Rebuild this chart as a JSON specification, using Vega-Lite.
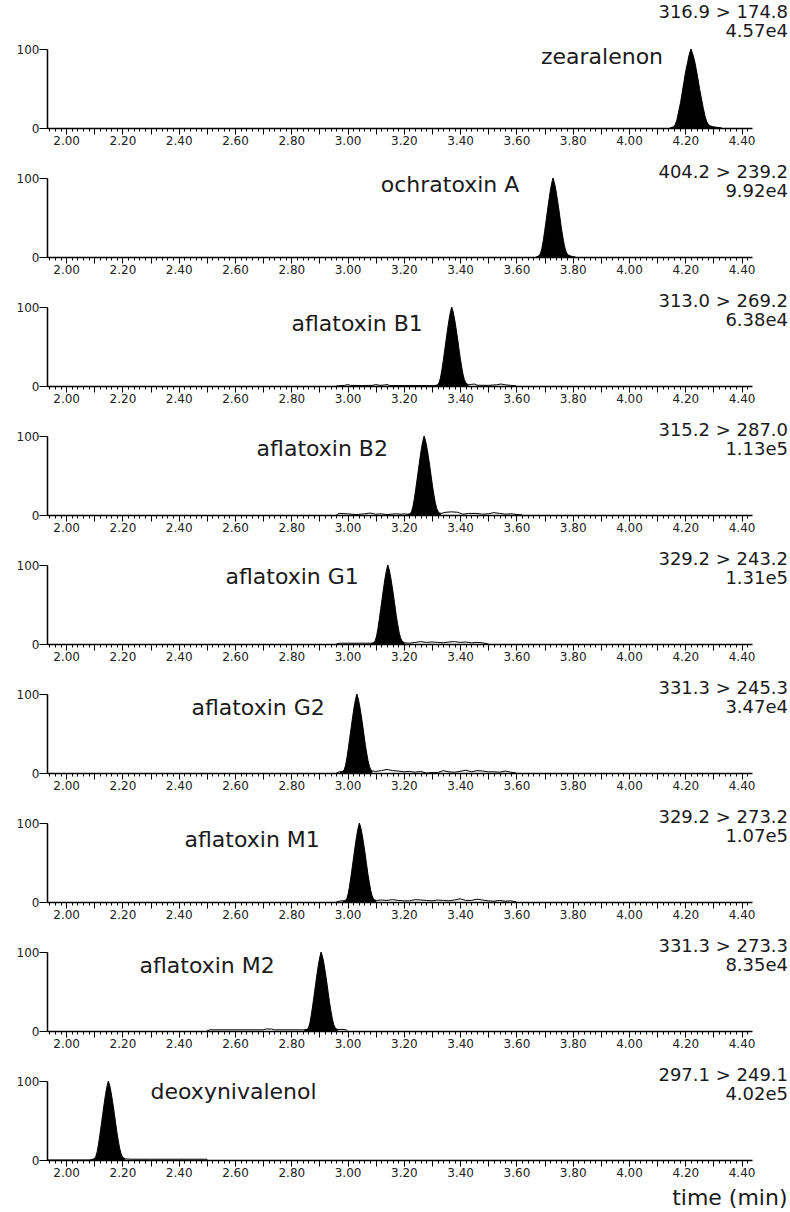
{
  "$schema": "https://vega.github.io/schema/vega-lite/v6.json",
  "padding": {"left": 16, "top": 4, "right": 0, "bottom": 0},
  "bounds": "flush",
  "spacing": 50,
  "config": {
    "view": {"stroke": null},
    "font": "DejaVu Sans",
    "axis": {"domainColor": "black", "domainWidth": 1.5, "tickColor": "black", "tickWidth": 1, "labelFont": "DejaVu Sans", "labelFontSize": 12, "labelColor": "#222222", "grid": false, "labelOverlap": false, "labelBound": false, "labelFlush": false},
    "text": {"font": "DejaVu Sans", "fontSize": 22, "color": "#1a1a1a"}
  },
  "datasets": {
    "labels": [
      {"panel": 1, "compound": "zearalenon", "header": "316.9 > 174.8\n4.57e4"},
      {"panel": 2, "compound": "ochratoxin A", "header": "404.2 > 239.2\n9.92e4"},
      {"panel": 3, "compound": "aflatoxin B1", "header": "313.0 > 269.2\n6.38e4"},
      {"panel": 4, "compound": "aflatoxin B2", "header": "315.2 > 287.0\n1.13e5"},
      {"panel": 5, "compound": "aflatoxin G1", "header": "329.2 > 243.2\n1.31e5"},
      {"panel": 6, "compound": "aflatoxin G2", "header": "331.3 > 245.3\n3.47e4"},
      {"panel": 7, "compound": "aflatoxin M1", "header": "329.2 > 273.2\n1.07e5"},
      {"panel": 8, "compound": "aflatoxin M2", "header": "331.3 > 273.3\n8.35e4"},
      {"panel": 9, "compound": "deoxynivalenol", "header": "297.1 > 249.1\n4.02e5"}
    ],
    "trace": [
      {"panel":1,"time":4.145,"signal":0,"peak":1},{"panel":1,"time":4.158,"signal":1.5,"peak":1},{"panel":1,"time":4.164,"signal":4,"peak":1},{"panel":1,"time":4.170,"signal":10,"peak":1},{"panel":1,"time":4.176,"signal":20,"peak":1},{"panel":1,"time":4.183,"signal":32,"peak":1},{"panel":1,"time":4.189,"signal":45,"peak":1},{"panel":1,"time":4.195,"signal":58,"peak":1},{"panel":1,"time":4.201,"signal":71,"peak":1},{"panel":1,"time":4.208,"signal":83,"peak":1},{"panel":1,"time":4.214,"signal":93,"peak":1},{"panel":1,"time":4.220,"signal":100,"peak":1},{"panel":1,"time":4.226,"signal":94,"peak":1},{"panel":1,"time":4.233,"signal":85,"peak":1},{"panel":1,"time":4.239,"signal":74,"peak":1},{"panel":1,"time":4.245,"signal":62,"peak":1},{"panel":1,"time":4.251,"signal":49,"peak":1},{"panel":1,"time":4.258,"signal":36,"peak":1},{"panel":1,"time":4.264,"signal":25,"peak":1},{"panel":1,"time":4.270,"signal":15,"peak":1},{"panel":1,"time":4.276,"signal":8,"peak":1},{"panel":1,"time":4.283,"signal":4,"peak":1},{"panel":1,"time":4.290,"signal":2.5,"peak":1},{"panel":1,"time":4.300,"signal":1.5,"peak":1},{"panel":1,"time":4.310,"signal":1,"peak":1},{"panel":1,"time":4.320,"signal":0.5,"peak":1},{"panel":1,"time":4.330,"signal":0,"peak":1},

      {"panel":2,"time":3.670,"signal":0,"peak":1},{"panel":2,"time":3.680,"signal":1.5,"peak":1},{"panel":2,"time":3.685,"signal":4,"peak":1},{"panel":2,"time":3.690,"signal":10,"peak":1},{"panel":2,"time":3.695,"signal":20,"peak":1},{"panel":2,"time":3.700,"signal":32,"peak":1},{"panel":2,"time":3.705,"signal":45,"peak":1},{"panel":2,"time":3.710,"signal":58,"peak":1},{"panel":2,"time":3.715,"signal":71,"peak":1},{"panel":2,"time":3.720,"signal":83,"peak":1},{"panel":2,"time":3.725,"signal":93,"peak":1},{"panel":2,"time":3.730,"signal":100,"peak":1},{"panel":2,"time":3.735,"signal":94,"peak":1},{"panel":2,"time":3.740,"signal":85,"peak":1},{"panel":2,"time":3.745,"signal":74,"peak":1},{"panel":2,"time":3.750,"signal":62,"peak":1},{"panel":2,"time":3.755,"signal":49,"peak":1},{"panel":2,"time":3.760,"signal":36,"peak":1},{"panel":2,"time":3.765,"signal":25,"peak":1},{"panel":2,"time":3.770,"signal":15,"peak":1},{"panel":2,"time":3.775,"signal":8,"peak":1},{"panel":2,"time":3.780,"signal":4,"peak":1},{"panel":2,"time":3.785,"signal":2.5,"peak":1},{"panel":2,"time":3.790,"signal":1.5,"peak":1},{"panel":2,"time":3.800,"signal":0.5,"peak":1},{"panel":2,"time":3.810,"signal":0,"peak":1},

      {"panel":3,"time":2.960,"signal":0,"peak":0},{"panel":3,"time":2.990,"signal":0.8,"peak":0},{"panel":3,"time":3.000,"signal":1.8,"peak":0},{"panel":3,"time":3.010,"signal":0.8,"peak":0},{"panel":3,"time":3.050,"signal":0.6,"peak":0},{"panel":3,"time":3.090,"signal":0.8,"peak":0},{"panel":3,"time":3.100,"signal":1.8,"peak":0},{"panel":3,"time":3.115,"signal":0.8,"peak":0},{"panel":3,"time":3.130,"signal":1.2,"peak":0},{"panel":3,"time":3.140,"signal":1.8,"peak":0},{"panel":3,"time":3.150,"signal":0.6,"peak":0},{"panel":3,"time":3.200,"signal":0.5,"peak":0},{"panel":3,"time":3.250,"signal":0.6,"peak":0},{"panel":3,"time":3.300,"signal":0.5,"peak":0},
      {"panel":3,"time":3.310,"signal":0.5,"peak":1},{"panel":3,"time":3.320,"signal":1.5,"peak":1},{"panel":3,"time":3.325,"signal":4,"peak":1},{"panel":3,"time":3.330,"signal":10,"peak":1},{"panel":3,"time":3.335,"signal":20,"peak":1},{"panel":3,"time":3.340,"signal":32,"peak":1},{"panel":3,"time":3.345,"signal":45,"peak":1},{"panel":3,"time":3.350,"signal":58,"peak":1},{"panel":3,"time":3.355,"signal":71,"peak":1},{"panel":3,"time":3.360,"signal":83,"peak":1},{"panel":3,"time":3.365,"signal":93,"peak":1},{"panel":3,"time":3.370,"signal":100,"peak":1},{"panel":3,"time":3.375,"signal":94,"peak":1},{"panel":3,"time":3.380,"signal":85,"peak":1},{"panel":3,"time":3.385,"signal":74,"peak":1},{"panel":3,"time":3.390,"signal":62,"peak":1},{"panel":3,"time":3.395,"signal":49,"peak":1},{"panel":3,"time":3.400,"signal":36,"peak":1},{"panel":3,"time":3.405,"signal":25,"peak":1},{"panel":3,"time":3.410,"signal":15,"peak":1},{"panel":3,"time":3.415,"signal":8,"peak":1},{"panel":3,"time":3.420,"signal":4,"peak":1},{"panel":3,"time":3.425,"signal":2.5,"peak":1},{"panel":3,"time":3.430,"signal":1.5,"peak":1},
      {"panel":3,"time":3.440,"signal":2,"peak":0},{"panel":3,"time":3.450,"signal":2.5,"peak":0},{"panel":3,"time":3.460,"signal":1,"peak":0},{"panel":3,"time":3.500,"signal":0.8,"peak":0},{"panel":3,"time":3.530,"signal":1.5,"peak":0},{"panel":3,"time":3.545,"signal":2.5,"peak":0},{"panel":3,"time":3.560,"signal":1.5,"peak":0},{"panel":3,"time":3.580,"signal":0.8,"peak":0},{"panel":3,"time":3.600,"signal":0,"peak":0},

      {"panel":4,"time":2.960,"signal":0,"peak":0},{"panel":4,"time":2.970,"signal":2,"peak":0},{"panel":4,"time":3.000,"signal":1.5,"peak":0},{"panel":4,"time":3.030,"signal":0.5,"peak":0},{"panel":4,"time":3.060,"signal":1.5,"peak":0},{"panel":4,"time":3.080,"signal":2.5,"peak":0},{"panel":4,"time":3.100,"signal":1,"peak":0},{"panel":4,"time":3.120,"signal":1.5,"peak":0},{"panel":4,"time":3.140,"signal":0.5,"peak":0},{"panel":4,"time":3.170,"signal":1.5,"peak":0},{"panel":4,"time":3.190,"signal":1,"peak":0},{"panel":4,"time":3.200,"signal":1.5,"peak":0},
      {"panel":4,"time":3.212,"signal":1,"peak":1},{"panel":4,"time":3.222,"signal":1.5,"peak":1},{"panel":4,"time":3.227,"signal":4,"peak":1},{"panel":4,"time":3.232,"signal":10,"peak":1},{"panel":4,"time":3.237,"signal":20,"peak":1},{"panel":4,"time":3.242,"signal":32,"peak":1},{"panel":4,"time":3.247,"signal":45,"peak":1},{"panel":4,"time":3.252,"signal":58,"peak":1},{"panel":4,"time":3.257,"signal":71,"peak":1},{"panel":4,"time":3.262,"signal":83,"peak":1},{"panel":4,"time":3.267,"signal":93,"peak":1},{"panel":4,"time":3.272,"signal":100,"peak":1},{"panel":4,"time":3.277,"signal":94,"peak":1},{"panel":4,"time":3.282,"signal":85,"peak":1},{"panel":4,"time":3.287,"signal":74,"peak":1},{"panel":4,"time":3.292,"signal":62,"peak":1},{"panel":4,"time":3.297,"signal":49,"peak":1},{"panel":4,"time":3.302,"signal":36,"peak":1},{"panel":4,"time":3.307,"signal":25,"peak":1},{"panel":4,"time":3.312,"signal":15,"peak":1},{"panel":4,"time":3.317,"signal":8,"peak":1},{"panel":4,"time":3.322,"signal":4,"peak":1},{"panel":4,"time":3.327,"signal":2.5,"peak":1},{"panel":4,"time":3.332,"signal":2,"peak":1},
      {"panel":4,"time":3.350,"signal":3.5,"peak":0},{"panel":4,"time":3.370,"signal":4,"peak":0},{"panel":4,"time":3.390,"signal":3.5,"peak":0},{"panel":4,"time":3.410,"signal":1,"peak":0},{"panel":4,"time":3.430,"signal":2,"peak":0},{"panel":4,"time":3.460,"signal":2,"peak":0},{"panel":4,"time":3.480,"signal":1,"peak":0},{"panel":4,"time":3.500,"signal":1.5,"peak":0},{"panel":4,"time":3.520,"signal":3,"peak":0},{"panel":4,"time":3.540,"signal":2,"peak":0},{"panel":4,"time":3.560,"signal":1,"peak":0},{"panel":4,"time":3.580,"signal":1.5,"peak":0},{"panel":4,"time":3.620,"signal":0,"peak":0},

      {"panel":5,"time":2.960,"signal":0,"peak":0},{"panel":5,"time":2.970,"signal":1,"peak":0},{"panel":5,"time":3.080,"signal":1,"peak":0},
      {"panel":5,"time":3.083,"signal":1,"peak":1},{"panel":5,"time":3.093,"signal":1.5,"peak":1},{"panel":5,"time":3.098,"signal":4,"peak":1},{"panel":5,"time":3.103,"signal":10,"peak":1},{"panel":5,"time":3.108,"signal":20,"peak":1},{"panel":5,"time":3.113,"signal":32,"peak":1},{"panel":5,"time":3.118,"signal":45,"peak":1},{"panel":5,"time":3.123,"signal":58,"peak":1},{"panel":5,"time":3.128,"signal":71,"peak":1},{"panel":5,"time":3.133,"signal":83,"peak":1},{"panel":5,"time":3.138,"signal":93,"peak":1},{"panel":5,"time":3.143,"signal":100,"peak":1},{"panel":5,"time":3.148,"signal":94,"peak":1},{"panel":5,"time":3.153,"signal":85,"peak":1},{"panel":5,"time":3.158,"signal":74,"peak":1},{"panel":5,"time":3.163,"signal":62,"peak":1},{"panel":5,"time":3.168,"signal":49,"peak":1},{"panel":5,"time":3.173,"signal":36,"peak":1},{"panel":5,"time":3.178,"signal":25,"peak":1},{"panel":5,"time":3.183,"signal":15,"peak":1},{"panel":5,"time":3.188,"signal":8,"peak":1},{"panel":5,"time":3.193,"signal":4,"peak":1},{"panel":5,"time":3.198,"signal":2.5,"peak":1},{"panel":5,"time":3.203,"signal":1.5,"peak":1},
      {"panel":5,"time":3.220,"signal":1,"peak":0},{"panel":5,"time":3.240,"signal":2,"peak":0},{"panel":5,"time":3.260,"signal":3,"peak":0},{"panel":5,"time":3.280,"signal":2,"peak":0},{"panel":5,"time":3.300,"signal":2.5,"peak":0},{"panel":5,"time":3.320,"signal":2,"peak":0},{"panel":5,"time":3.340,"signal":1.5,"peak":0},{"panel":5,"time":3.360,"signal":2.5,"peak":0},{"panel":5,"time":3.380,"signal":3,"peak":0},{"panel":5,"time":3.400,"signal":2,"peak":0},{"panel":5,"time":3.420,"signal":2.5,"peak":0},{"panel":5,"time":3.440,"signal":1.5,"peak":0},{"panel":5,"time":3.460,"signal":2,"peak":0},{"panel":5,"time":3.480,"signal":1.5,"peak":0},{"panel":5,"time":3.500,"signal":0,"peak":0},

      {"panel":6,"time":2.960,"signal":0,"peak":0},{"panel":6,"time":2.970,"signal":1.5,"peak":0},
      {"panel":6,"time":2.973,"signal":1.5,"peak":1},{"panel":6,"time":2.983,"signal":2,"peak":1},{"panel":6,"time":2.988,"signal":4,"peak":1},{"panel":6,"time":2.993,"signal":10,"peak":1},{"panel":6,"time":2.998,"signal":20,"peak":1},{"panel":6,"time":3.003,"signal":32,"peak":1},{"panel":6,"time":3.008,"signal":45,"peak":1},{"panel":6,"time":3.013,"signal":58,"peak":1},{"panel":6,"time":3.018,"signal":71,"peak":1},{"panel":6,"time":3.023,"signal":83,"peak":1},{"panel":6,"time":3.028,"signal":93,"peak":1},{"panel":6,"time":3.033,"signal":100,"peak":1},{"panel":6,"time":3.038,"signal":94,"peak":1},{"panel":6,"time":3.043,"signal":85,"peak":1},{"panel":6,"time":3.048,"signal":74,"peak":1},{"panel":6,"time":3.053,"signal":62,"peak":1},{"panel":6,"time":3.058,"signal":49,"peak":1},{"panel":6,"time":3.063,"signal":36,"peak":1},{"panel":6,"time":3.068,"signal":25,"peak":1},{"panel":6,"time":3.073,"signal":15,"peak":1},{"panel":6,"time":3.078,"signal":8,"peak":1},{"panel":6,"time":3.083,"signal":4,"peak":1},{"panel":6,"time":3.088,"signal":2.5,"peak":1},
      {"panel":6,"time":3.100,"signal":2,"peak":0},{"panel":6,"time":3.120,"signal":3,"peak":0},{"panel":6,"time":3.140,"signal":4.5,"peak":0},{"panel":6,"time":3.160,"signal":3,"peak":0},{"panel":6,"time":3.180,"signal":2.5,"peak":0},{"panel":6,"time":3.200,"signal":1.5,"peak":0},{"panel":6,"time":3.220,"signal":2,"peak":0},{"panel":6,"time":3.240,"signal":1,"peak":0},{"panel":6,"time":3.260,"signal":2,"peak":0},{"panel":6,"time":3.280,"signal":0,"peak":0},{"panel":6,"time":3.300,"signal":0.5,"peak":0},{"panel":6,"time":3.320,"signal":0.5,"peak":0},{"panel":6,"time":3.340,"signal":3,"peak":0},{"panel":6,"time":3.360,"signal":1.5,"peak":0},{"panel":6,"time":3.380,"signal":1,"peak":0},{"panel":6,"time":3.400,"signal":2,"peak":0},{"panel":6,"time":3.420,"signal":3.5,"peak":0},{"panel":6,"time":3.440,"signal":1.5,"peak":0},{"panel":6,"time":3.460,"signal":3,"peak":0},{"panel":6,"time":3.480,"signal":2.5,"peak":0},{"panel":6,"time":3.500,"signal":1.5,"peak":0},{"panel":6,"time":3.520,"signal":1.5,"peak":0},{"panel":6,"time":3.540,"signal":1,"peak":0},{"panel":6,"time":3.560,"signal":2.5,"peak":0},{"panel":6,"time":3.580,"signal":1,"peak":0},{"panel":6,"time":3.600,"signal":0,"peak":0},

      {"panel":7,"time":2.960,"signal":0,"peak":0},{"panel":7,"time":2.970,"signal":1,"peak":0},{"panel":7,"time":2.980,"signal":1.5,"peak":0},
      {"panel":7,"time":2.982,"signal":1.5,"peak":1},{"panel":7,"time":2.992,"signal":2,"peak":1},{"panel":7,"time":2.997,"signal":4,"peak":1},{"panel":7,"time":3.002,"signal":10,"peak":1},{"panel":7,"time":3.007,"signal":20,"peak":1},{"panel":7,"time":3.012,"signal":32,"peak":1},{"panel":7,"time":3.017,"signal":45,"peak":1},{"panel":7,"time":3.022,"signal":58,"peak":1},{"panel":7,"time":3.027,"signal":71,"peak":1},{"panel":7,"time":3.032,"signal":83,"peak":1},{"panel":7,"time":3.037,"signal":93,"peak":1},{"panel":7,"time":3.042,"signal":100,"peak":1},{"panel":7,"time":3.047,"signal":94,"peak":1},{"panel":7,"time":3.052,"signal":85,"peak":1},{"panel":7,"time":3.057,"signal":74,"peak":1},{"panel":7,"time":3.062,"signal":62,"peak":1},{"panel":7,"time":3.067,"signal":49,"peak":1},{"panel":7,"time":3.072,"signal":36,"peak":1},{"panel":7,"time":3.077,"signal":25,"peak":1},{"panel":7,"time":3.082,"signal":15,"peak":1},{"panel":7,"time":3.087,"signal":8,"peak":1},{"panel":7,"time":3.092,"signal":4,"peak":1},{"panel":7,"time":3.097,"signal":2.5,"peak":1},{"panel":7,"time":3.102,"signal":2,"peak":1},
      {"panel":7,"time":3.120,"signal":2.5,"peak":0},{"panel":7,"time":3.140,"signal":2,"peak":0},{"panel":7,"time":3.160,"signal":3,"peak":0},{"panel":7,"time":3.180,"signal":2,"peak":0},{"panel":7,"time":3.200,"signal":1.5,"peak":0},{"panel":7,"time":3.220,"signal":1.5,"peak":0},{"panel":7,"time":3.240,"signal":3,"peak":0},{"panel":7,"time":3.260,"signal":2.5,"peak":0},{"panel":7,"time":3.280,"signal":2,"peak":0},{"panel":7,"time":3.300,"signal":1.5,"peak":0},{"panel":7,"time":3.320,"signal":2.5,"peak":0},{"panel":7,"time":3.340,"signal":2,"peak":0},{"panel":7,"time":3.360,"signal":1.5,"peak":0},{"panel":7,"time":3.380,"signal":2.5,"peak":0},{"panel":7,"time":3.400,"signal":4,"peak":0},{"panel":7,"time":3.420,"signal":2,"peak":0},{"panel":7,"time":3.440,"signal":2,"peak":0},{"panel":7,"time":3.460,"signal":3.5,"peak":0},{"panel":7,"time":3.480,"signal":2.5,"peak":0},{"panel":7,"time":3.500,"signal":1.5,"peak":0},{"panel":7,"time":3.520,"signal":1,"peak":0},{"panel":7,"time":3.540,"signal":2,"peak":0},{"panel":7,"time":3.560,"signal":1,"peak":0},{"panel":7,"time":3.580,"signal":1.5,"peak":0},{"panel":7,"time":3.600,"signal":0,"peak":0},

      {"panel":8,"time":2.500,"signal":0,"peak":0},{"panel":8,"time":2.510,"signal":1.5,"peak":0},{"panel":8,"time":2.600,"signal":1.5,"peak":0},{"panel":8,"time":2.700,"signal":1.5,"peak":0},{"panel":8,"time":2.710,"signal":2.5,"peak":0},{"panel":8,"time":2.730,"signal":2.5,"peak":0},{"panel":8,"time":2.740,"signal":1.5,"peak":0},{"panel":8,"time":2.840,"signal":1.5,"peak":0},
      {"panel":8,"time":2.846,"signal":1.5,"peak":1},{"panel":8,"time":2.856,"signal":2,"peak":1},{"panel":8,"time":2.861,"signal":4,"peak":1},{"panel":8,"time":2.866,"signal":10,"peak":1},{"panel":8,"time":2.871,"signal":20,"peak":1},{"panel":8,"time":2.876,"signal":32,"peak":1},{"panel":8,"time":2.881,"signal":45,"peak":1},{"panel":8,"time":2.886,"signal":58,"peak":1},{"panel":8,"time":2.891,"signal":71,"peak":1},{"panel":8,"time":2.896,"signal":83,"peak":1},{"panel":8,"time":2.901,"signal":93,"peak":1},{"panel":8,"time":2.906,"signal":100,"peak":1},{"panel":8,"time":2.911,"signal":94,"peak":1},{"panel":8,"time":2.916,"signal":85,"peak":1},{"panel":8,"time":2.921,"signal":74,"peak":1},{"panel":8,"time":2.926,"signal":62,"peak":1},{"panel":8,"time":2.931,"signal":49,"peak":1},{"panel":8,"time":2.936,"signal":36,"peak":1},{"panel":8,"time":2.941,"signal":25,"peak":1},{"panel":8,"time":2.946,"signal":15,"peak":1},{"panel":8,"time":2.951,"signal":8,"peak":1},{"panel":8,"time":2.956,"signal":4,"peak":1},{"panel":8,"time":2.961,"signal":2.5,"peak":1},{"panel":8,"time":2.966,"signal":2,"peak":1},
      {"panel":8,"time":2.980,"signal":2,"peak":0},{"panel":8,"time":2.995,"signal":1.5,"peak":0},{"panel":8,"time":3.000,"signal":0,"peak":0},

      {"panel":9,"time":1.932,"signal":0,"peak":0},{"panel":9,"time":2.080,"signal":0,"peak":0},
      {"panel":9,"time":2.090,"signal":0.5,"peak":1},{"panel":9,"time":2.100,"signal":1.5,"peak":1},{"panel":9,"time":2.105,"signal":4,"peak":1},{"panel":9,"time":2.110,"signal":10,"peak":1},{"panel":9,"time":2.115,"signal":20,"peak":1},{"panel":9,"time":2.120,"signal":32,"peak":1},{"panel":9,"time":2.125,"signal":45,"peak":1},{"panel":9,"time":2.130,"signal":58,"peak":1},{"panel":9,"time":2.135,"signal":71,"peak":1},{"panel":9,"time":2.140,"signal":83,"peak":1},{"panel":9,"time":2.145,"signal":93,"peak":1},{"panel":9,"time":2.150,"signal":100,"peak":1},{"panel":9,"time":2.155,"signal":94,"peak":1},{"panel":9,"time":2.160,"signal":85,"peak":1},{"panel":9,"time":2.165,"signal":74,"peak":1},{"panel":9,"time":2.170,"signal":62,"peak":1},{"panel":9,"time":2.175,"signal":49,"peak":1},{"panel":9,"time":2.180,"signal":36,"peak":1},{"panel":9,"time":2.185,"signal":25,"peak":1},{"panel":9,"time":2.190,"signal":15,"peak":1},{"panel":9,"time":2.195,"signal":8,"peak":1},{"panel":9,"time":2.200,"signal":4,"peak":1},{"panel":9,"time":2.205,"signal":2.5,"peak":1},{"panel":9,"time":2.210,"signal":1.5,"peak":1},
      {"panel":9,"time":2.230,"signal":1,"peak":0},{"panel":9,"time":2.300,"signal":1,"peak":0},{"panel":9,"time":2.400,"signal":1,"peak":0},{"panel":9,"time":2.500,"signal":1,"peak":0},{"panel":9,"time":2.502,"signal":0,"peak":0}
    ]
  },
  "vconcat": [
    {"width": 705, "height": 79, "layer": [
      {"data": {"name": "trace"}, "transform": [{"filter": "datum.panel == 1 && datum.peak == 1"}], "mark": {"type": "area", "color": "black"},
       "encoding": {
         "x": {"field": "time", "type": "quantitative", "scale": {"domain": [1.932, 4.437], "nice": false, "zero": false}, "axis": {"title": null, "tickCount": 125, "labelExpr": "abs(datum.value*5 - round(datum.value*5)) < 0.001 ? format(datum.value, '.2f') : ''", "tickSize": {"condition": {"test": "abs(datum.value*10 - round(datum.value*10)) < 0.001", "value": 6}, "value": 3}, "labelPadding": 1}},
         "y": {"field": "signal", "type": "quantitative", "scale": {"domain": [0, 100], "nice": false}, "axis": {"title": null, "values": [0,10,20,30,40,50,60,70,80,90,100], "labelExpr": "datum.value == 100 ? '100' : datum.value == 50 ? '%' : datum.value == 0 ? '0' : ''", "tickSize": {"condition": {"test": "datum.value % 50 == 0", "value": 8}, "value": 4}, "labelPadding": 0}}}},
      {"data": {"name": "trace"}, "transform": [{"filter": "datum.panel == 1"}], "mark": {"type": "line", "color": "black", "strokeWidth": 1}, "encoding": {"x": {"field": "time", "type": "quantitative"}, "y": {"field": "signal", "type": "quantitative"}}},
      {"data": {"name": "labels"}, "transform": [{"filter": "datum.panel == 1"}], "mark": {"type": "text"}, "encoding": {"x": {"datum": 3.904}, "y": {"datum": 90}, "text": {"field": "compound"}}},
      {"data": {"name": "labels"}, "transform": [{"filter": "datum.panel == 1"}], "mark": {"type": "text", "align": "right", "baseline": "middle", "fontSize": 18, "lineHeight": 19, "lineBreak": "\n"}, "encoding": {"x": {"datum": 4.565}, "y": {"datum": 145.5}, "text": {"field": "header"}}}
    ]},
    {"width": 705, "height": 79, "layer": [
      {"data": {"name": "trace"}, "transform": [{"filter": "datum.panel == 2 && datum.peak == 1"}], "mark": {"type": "area", "color": "black"},
       "encoding": {
         "x": {"field": "time", "type": "quantitative", "scale": {"domain": [1.932, 4.437], "nice": false, "zero": false}, "axis": {"title": null, "tickCount": 125, "labelExpr": "abs(datum.value*5 - round(datum.value*5)) < 0.001 ? format(datum.value, '.2f') : ''", "tickSize": {"condition": {"test": "abs(datum.value*10 - round(datum.value*10)) < 0.001", "value": 6}, "value": 3}, "labelPadding": 1}},
         "y": {"field": "signal", "type": "quantitative", "scale": {"domain": [0, 100], "nice": false}, "axis": {"title": null, "values": [0,10,20,30,40,50,60,70,80,90,100], "labelExpr": "datum.value == 100 ? '100' : datum.value == 50 ? '%' : datum.value == 0 ? '0' : ''", "tickSize": {"condition": {"test": "datum.value % 50 == 0", "value": 8}, "value": 4}, "labelPadding": 0}}}},
      {"data": {"name": "trace"}, "transform": [{"filter": "datum.panel == 2"}], "mark": {"type": "line", "color": "black", "strokeWidth": 1}, "encoding": {"x": {"field": "time", "type": "quantitative"}, "y": {"field": "signal", "type": "quantitative"}}},
      {"data": {"name": "labels"}, "transform": [{"filter": "datum.panel == 2"}], "mark": {"type": "text"}, "encoding": {"x": {"datum": 3.364}, "y": {"datum": 91}, "text": {"field": "compound"}}},
      {"data": {"name": "labels"}, "transform": [{"filter": "datum.panel == 2"}], "mark": {"type": "text", "align": "right", "baseline": "middle", "fontSize": 18, "lineHeight": 19, "lineBreak": "\n"}, "encoding": {"x": {"datum": 4.565}, "y": {"datum": 106.3}, "text": {"field": "header"}}}
    ]},
    {"width": 705, "height": 79, "layer": [
      {"data": {"name": "trace"}, "transform": [{"filter": "datum.panel == 3 && datum.peak == 1"}], "mark": {"type": "area", "color": "black"},
       "encoding": {
         "x": {"field": "time", "type": "quantitative", "scale": {"domain": [1.932, 4.437], "nice": false, "zero": false}, "axis": {"title": null, "tickCount": 125, "labelExpr": "abs(datum.value*5 - round(datum.value*5)) < 0.001 ? format(datum.value, '.2f') : ''", "tickSize": {"condition": {"test": "abs(datum.value*10 - round(datum.value*10)) < 0.001", "value": 6}, "value": 3}, "labelPadding": 1}},
         "y": {"field": "signal", "type": "quantitative", "scale": {"domain": [0, 100], "nice": false}, "axis": {"title": null, "values": [0,10,20,30,40,50,60,70,80,90,100], "labelExpr": "datum.value == 100 ? '100' : datum.value == 50 ? '%' : datum.value == 0 ? '0' : ''", "tickSize": {"condition": {"test": "datum.value % 50 == 0", "value": 8}, "value": 4}, "labelPadding": 0}}}},
      {"data": {"name": "trace"}, "transform": [{"filter": "datum.panel == 3"}], "mark": {"type": "line", "color": "black", "strokeWidth": 1}, "encoding": {"x": {"field": "time", "type": "quantitative"}, "y": {"field": "signal", "type": "quantitative"}}},
      {"data": {"name": "labels"}, "transform": [{"filter": "datum.panel == 3"}], "mark": {"type": "text"}, "encoding": {"x": {"datum": 3.034}, "y": {"datum": 79}, "text": {"field": "compound"}}},
      {"data": {"name": "labels"}, "transform": [{"filter": "datum.panel == 3"}], "mark": {"type": "text", "align": "right", "baseline": "middle", "fontSize": 18, "lineHeight": 19, "lineBreak": "\n"}, "encoding": {"x": {"datum": 4.565}, "y": {"datum": 106.3}, "text": {"field": "header"}}}
    ]},
    {"width": 705, "height": 79, "layer": [
      {"data": {"name": "trace"}, "transform": [{"filter": "datum.panel == 4 && datum.peak == 1"}], "mark": {"type": "area", "color": "black"},
       "encoding": {
         "x": {"field": "time", "type": "quantitative", "scale": {"domain": [1.932, 4.437], "nice": false, "zero": false}, "axis": {"title": null, "tickCount": 125, "labelExpr": "abs(datum.value*5 - round(datum.value*5)) < 0.001 ? format(datum.value, '.2f') : ''", "tickSize": {"condition": {"test": "abs(datum.value*10 - round(datum.value*10)) < 0.001", "value": 6}, "value": 3}, "labelPadding": 1}},
         "y": {"field": "signal", "type": "quantitative", "scale": {"domain": [0, 100], "nice": false}, "axis": {"title": null, "values": [0,10,20,30,40,50,60,70,80,90,100], "labelExpr": "datum.value == 100 ? '100' : datum.value == 50 ? '%' : datum.value == 0 ? '0' : ''", "tickSize": {"condition": {"test": "datum.value % 50 == 0", "value": 8}, "value": 4}, "labelPadding": 0}}}},
      {"data": {"name": "trace"}, "transform": [{"filter": "datum.panel == 4"}], "mark": {"type": "line", "color": "black", "strokeWidth": 1}, "encoding": {"x": {"field": "time", "type": "quantitative"}, "y": {"field": "signal", "type": "quantitative"}}},
      {"data": {"name": "labels"}, "transform": [{"filter": "datum.panel == 4"}], "mark": {"type": "text"}, "encoding": {"x": {"datum": 2.910}, "y": {"datum": 83.5}, "text": {"field": "compound"}}},
      {"data": {"name": "labels"}, "transform": [{"filter": "datum.panel == 4"}], "mark": {"type": "text", "align": "right", "baseline": "middle", "fontSize": 18, "lineHeight": 19, "lineBreak": "\n"}, "encoding": {"x": {"datum": 4.565}, "y": {"datum": 106.3}, "text": {"field": "header"}}}
    ]},
    {"width": 705, "height": 79, "layer": [
      {"data": {"name": "trace"}, "transform": [{"filter": "datum.panel == 5 && datum.peak == 1"}], "mark": {"type": "area", "color": "black"},
       "encoding": {
         "x": {"field": "time", "type": "quantitative", "scale": {"domain": [1.932, 4.437], "nice": false, "zero": false}, "axis": {"title": null, "tickCount": 125, "labelExpr": "abs(datum.value*5 - round(datum.value*5)) < 0.001 ? format(datum.value, '.2f') : ''", "tickSize": {"condition": {"test": "abs(datum.value*10 - round(datum.value*10)) < 0.001", "value": 6}, "value": 3}, "labelPadding": 1}},
         "y": {"field": "signal", "type": "quantitative", "scale": {"domain": [0, 100], "nice": false}, "axis": {"title": null, "values": [0,10,20,30,40,50,60,70,80,90,100], "labelExpr": "datum.value == 100 ? '100' : datum.value == 50 ? '%' : datum.value == 0 ? '0' : ''", "tickSize": {"condition": {"test": "datum.value % 50 == 0", "value": 8}, "value": 4}, "labelPadding": 0}}}},
      {"data": {"name": "trace"}, "transform": [{"filter": "datum.panel == 5"}], "mark": {"type": "line", "color": "black", "strokeWidth": 1}, "encoding": {"x": {"field": "time", "type": "quantitative"}, "y": {"field": "signal", "type": "quantitative"}}},
      {"data": {"name": "labels"}, "transform": [{"filter": "datum.panel == 5"}], "mark": {"type": "text"}, "encoding": {"x": {"datum": 2.803}, "y": {"datum": 85}, "text": {"field": "compound"}}},
      {"data": {"name": "labels"}, "transform": [{"filter": "datum.panel == 5"}], "mark": {"type": "text", "align": "right", "baseline": "middle", "fontSize": 18, "lineHeight": 19, "lineBreak": "\n"}, "encoding": {"x": {"datum": 4.565}, "y": {"datum": 106.3}, "text": {"field": "header"}}}
    ]},
    {"width": 705, "height": 79, "layer": [
      {"data": {"name": "trace"}, "transform": [{"filter": "datum.panel == 6 && datum.peak == 1"}], "mark": {"type": "area", "color": "black"},
       "encoding": {
         "x": {"field": "time", "type": "quantitative", "scale": {"domain": [1.932, 4.437], "nice": false, "zero": false}, "axis": {"title": null, "tickCount": 125, "labelExpr": "abs(datum.value*5 - round(datum.value*5)) < 0.001 ? format(datum.value, '.2f') : ''", "tickSize": {"condition": {"test": "abs(datum.value*10 - round(datum.value*10)) < 0.001", "value": 6}, "value": 3}, "labelPadding": 1}},
         "y": {"field": "signal", "type": "quantitative", "scale": {"domain": [0, 100], "nice": false}, "axis": {"title": null, "values": [0,10,20,30,40,50,60,70,80,90,100], "labelExpr": "datum.value == 100 ? '100' : datum.value == 50 ? '%' : datum.value == 0 ? '0' : ''", "tickSize": {"condition": {"test": "datum.value % 50 == 0", "value": 8}, "value": 4}, "labelPadding": 0}}}},
      {"data": {"name": "trace"}, "transform": [{"filter": "datum.panel == 6"}], "mark": {"type": "line", "color": "black", "strokeWidth": 1}, "encoding": {"x": {"field": "time", "type": "quantitative"}, "y": {"field": "signal", "type": "quantitative"}}},
      {"data": {"name": "labels"}, "transform": [{"filter": "datum.panel == 6"}], "mark": {"type": "text"}, "encoding": {"x": {"datum": 2.682}, "y": {"datum": 82}, "text": {"field": "compound"}}},
      {"data": {"name": "labels"}, "transform": [{"filter": "datum.panel == 6"}], "mark": {"type": "text", "align": "right", "baseline": "middle", "fontSize": 18, "lineHeight": 19, "lineBreak": "\n"}, "encoding": {"x": {"datum": 4.565}, "y": {"datum": 106.3}, "text": {"field": "header"}}}
    ]},
    {"width": 705, "height": 79, "layer": [
      {"data": {"name": "trace"}, "transform": [{"filter": "datum.panel == 7 && datum.peak == 1"}], "mark": {"type": "area", "color": "black"},
       "encoding": {
         "x": {"field": "time", "type": "quantitative", "scale": {"domain": [1.932, 4.437], "nice": false, "zero": false}, "axis": {"title": null, "tickCount": 125, "labelExpr": "abs(datum.value*5 - round(datum.value*5)) < 0.001 ? format(datum.value, '.2f') : ''", "tickSize": {"condition": {"test": "abs(datum.value*10 - round(datum.value*10)) < 0.001", "value": 6}, "value": 3}, "labelPadding": 1}},
         "y": {"field": "signal", "type": "quantitative", "scale": {"domain": [0, 100], "nice": false}, "axis": {"title": null, "values": [0,10,20,30,40,50,60,70,80,90,100], "labelExpr": "datum.value == 100 ? '100' : datum.value == 50 ? '%' : datum.value == 0 ? '0' : ''", "tickSize": {"condition": {"test": "datum.value % 50 == 0", "value": 8}, "value": 4}, "labelPadding": 0}}}},
      {"data": {"name": "trace"}, "transform": [{"filter": "datum.panel == 7"}], "mark": {"type": "line", "color": "black", "strokeWidth": 1}, "encoding": {"x": {"field": "time", "type": "quantitative"}, "y": {"field": "signal", "type": "quantitative"}}},
      {"data": {"name": "labels"}, "transform": [{"filter": "datum.panel == 7"}], "mark": {"type": "text"}, "encoding": {"x": {"datum": 2.661}, "y": {"datum": 78.5}, "text": {"field": "compound"}}},
      {"data": {"name": "labels"}, "transform": [{"filter": "datum.panel == 7"}], "mark": {"type": "text", "align": "right", "baseline": "middle", "fontSize": 18, "lineHeight": 19, "lineBreak": "\n"}, "encoding": {"x": {"datum": 4.565}, "y": {"datum": 106.3}, "text": {"field": "header"}}}
    ]},
    {"width": 705, "height": 79, "layer": [
      {"data": {"name": "trace"}, "transform": [{"filter": "datum.panel == 8 && datum.peak == 1"}], "mark": {"type": "area", "color": "black"},
       "encoding": {
         "x": {"field": "time", "type": "quantitative", "scale": {"domain": [1.932, 4.437], "nice": false, "zero": false}, "axis": {"title": null, "tickCount": 125, "labelExpr": "abs(datum.value*5 - round(datum.value*5)) < 0.001 ? format(datum.value, '.2f') : ''", "tickSize": {"condition": {"test": "abs(datum.value*10 - round(datum.value*10)) < 0.001", "value": 6}, "value": 3}, "labelPadding": 1}},
         "y": {"field": "signal", "type": "quantitative", "scale": {"domain": [0, 100], "nice": false}, "axis": {"title": null, "values": [0,10,20,30,40,50,60,70,80,90,100], "labelExpr": "datum.value == 100 ? '100' : datum.value == 50 ? '%' : datum.value == 0 ? '0' : ''", "tickSize": {"condition": {"test": "datum.value % 50 == 0", "value": 8}, "value": 4}, "labelPadding": 0}}}},
      {"data": {"name": "trace"}, "transform": [{"filter": "datum.panel == 8"}], "mark": {"type": "line", "color": "black", "strokeWidth": 1}, "encoding": {"x": {"field": "time", "type": "quantitative"}, "y": {"field": "signal", "type": "quantitative"}}},
      {"data": {"name": "labels"}, "transform": [{"filter": "datum.panel == 8"}], "mark": {"type": "text"}, "encoding": {"x": {"datum": 2.501}, "y": {"datum": 82}, "text": {"field": "compound"}}},
      {"data": {"name": "labels"}, "transform": [{"filter": "datum.panel == 8"}], "mark": {"type": "text", "align": "right", "baseline": "middle", "fontSize": 18, "lineHeight": 19, "lineBreak": "\n"}, "encoding": {"x": {"datum": 4.565}, "y": {"datum": 106.3}, "text": {"field": "header"}}}
    ]},
    {"width": 705, "height": 79, "layer": [
      {"data": {"name": "trace"}, "transform": [{"filter": "datum.panel == 9 && datum.peak == 1"}], "mark": {"type": "area", "color": "black"},
       "encoding": {
         "x": {"field": "time", "type": "quantitative", "scale": {"domain": [1.932, 4.437], "nice": false, "zero": false}, "axis": {"title": "time (min)", "titleFont": "DejaVu Sans", "titleFontSize": 22, "titleFontWeight": "normal", "titleColor": "#1a1a1a", "titleAnchor": "end", "titleAlign": "right", "titleX": 740, "titleY": 37, "titleBaseline": "middle", "tickCount": 125, "labelExpr": "abs(datum.value*5 - round(datum.value*5)) < 0.001 ? format(datum.value, '.2f') : ''", "tickSize": {"condition": {"test": "abs(datum.value*10 - round(datum.value*10)) < 0.001", "value": 6}, "value": 3}, "labelPadding": 1}},
         "y": {"field": "signal", "type": "quantitative", "scale": {"domain": [0, 100], "nice": false}, "axis": {"title": null, "values": [0,10,20,30,40,50,60,70,80,90,100], "labelExpr": "datum.value == 100 ? '100' : datum.value == 50 ? '%' : datum.value == 0 ? '0' : ''", "tickSize": {"condition": {"test": "datum.value % 50 == 0", "value": 8}, "value": 4}, "labelPadding": 0}}}},
      {"data": {"name": "trace"}, "transform": [{"filter": "datum.panel == 9"}], "mark": {"type": "line", "color": "black", "strokeWidth": 1}, "encoding": {"x": {"field": "time", "type": "quantitative"}, "y": {"field": "signal", "type": "quantitative"}}},
      {"data": {"name": "labels"}, "transform": [{"filter": "datum.panel == 9"}], "mark": {"type": "text"}, "encoding": {"x": {"datum": 2.595}, "y": {"datum": 86}, "text": {"field": "compound"}}},
      {"data": {"name": "labels"}, "transform": [{"filter": "datum.panel == 9"}], "mark": {"type": "text", "align": "right", "baseline": "middle", "fontSize": 18, "lineHeight": 19, "lineBreak": "\n"}, "encoding": {"x": {"datum": 4.565}, "y": {"datum": 106.3}, "text": {"field": "header"}}}
    ]}
  ]
}
